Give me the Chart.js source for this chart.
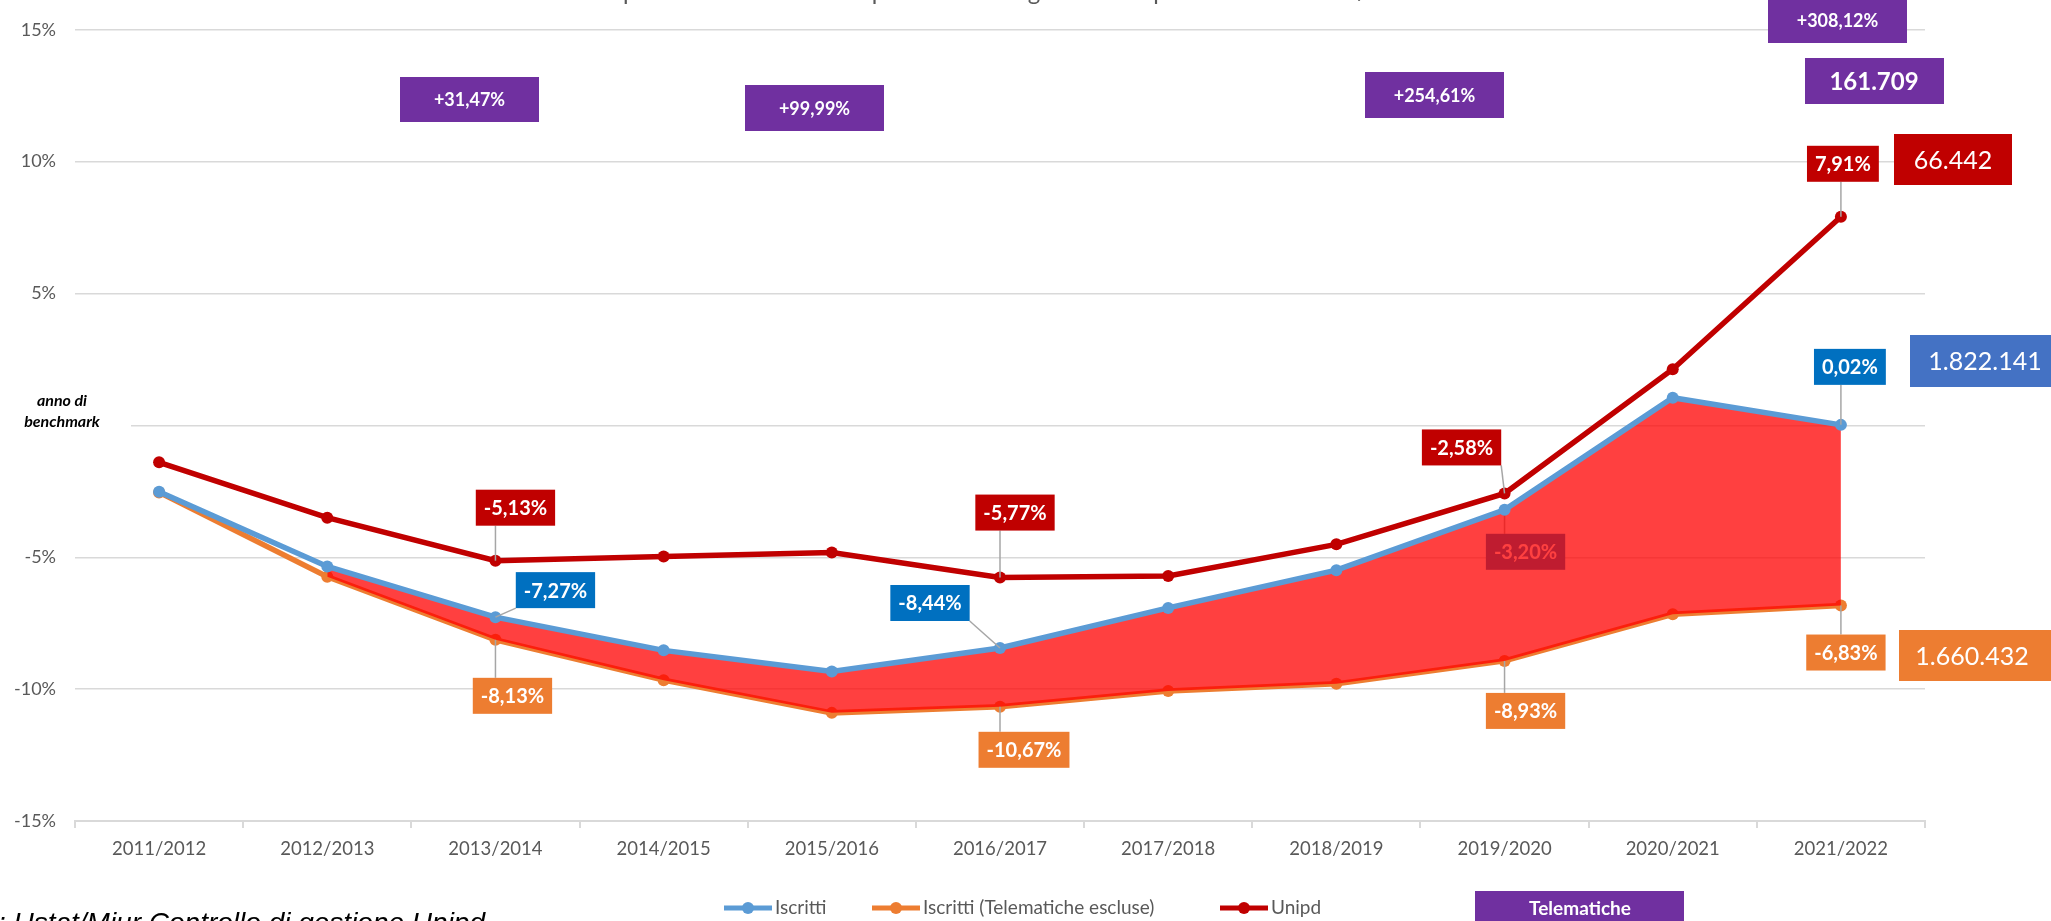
<!DOCTYPE html>
<html>
<head>
<meta charset="utf-8">
<script src="https://cdn.jsdelivr.net/npm/chart.js@4.4.0/dist/chart.umd.min.js"></script>
<style>
    html, body { margin: 0; padding: 0; background: #fff; }
    #wrap { width: 2051px; height: 921px; position: relative; }
</style>
</head>
<body>
<div id="wrap"><canvas id="chart"></canvas></div>
<script>
// Anni accademici e variazioni % rispetto all'anno di benchmark
const seasons = ['2011/2012', '2012/2013', '2013/2014', '2014/2015', '2015/2016', '2016/2017',
                 '2017/2018', '2018/2019', '2019/2020', '2020/2021', '2021/2022'];
const iscritti = [-2.52, -5.35, -7.27, -8.53, -9.33, -8.44, -6.92, -5.49, -3.20, 1.05, 0.02];
const iscrittiNoTelematiche = [-2.54, -5.74, -8.13, -9.66, -10.90, -10.67, -10.07, -9.80, -8.93, -7.16, -6.83];
const unipd = [-1.40, -3.50, -5.13, -4.97, -4.82, -5.77, -5.71, -4.51, -2.58, 2.13, 7.91];
const labelledPoints = [2, 5, 8, 10];
const yTicks = [-15, -10, -5, 0, 5, 10, 15];

// Telematiche e totali 2021/2022
const telematicheVar = ['+31,47%', '+99,99%', '+254,61%', '+308,12%'];
const totTelematiche = '161.709';
const totUnipd = '66.442';
const totIscritti = '1.822.141';
const totNoTelematiche = '1.660.432';

const BLUE = '#5B9BD5', ORANGE = '#ED7D31', RED = '#C00000', PURPLE = '#7030A0';
const FONT = 'Lato, "Open Sans", sans-serif';

// label box offsets from the point (px), one per labelled point
const offIscritti = [[60, -27], [-70, -45], [21, 42], [9, -58]];
const offNoTel = [[17, 56], [24, 43], [21, 50], [5, 47]];
const offUnipd = [[20, -53], [15, -65], [-43, -46], [2, -53]];

function fmt(v) {
    return v.toFixed(2).replace('.', ',') + '%';
}

function tag(ctx, text, cx, cy, bg, font, h, padX) {
    ctx.font = font;
    const w = ctx.measureText(text).width + padX * 2;
    ctx.fillStyle = bg;
    ctx.fillRect(cx - w / 2, cy - h / 2, w, h);
    ctx.fillStyle = '#fff';
    ctx.textAlign = 'center';
    ctx.textBaseline = 'middle';
    ctx.fillText(text, cx, cy + 1);
}

function leader(ctx, px, py, cx, cy, w, h) {
    const nx = Math.max(cx - w / 2, Math.min(px, cx + w / 2));
    const ny = Math.max(cy - h / 2, Math.min(py, cy + h / 2));
    if (Math.hypot(nx - px, ny - py) < 8) return;
    ctx.strokeStyle = '#A6A6A6';
    ctx.lineWidth = 1.5;
    ctx.beginPath();
    ctx.moveTo(px, py);
    ctx.lineTo(nx, ny);
    ctx.stroke();
}

function pointLabels(chart, dsIndex, values, offsets, bg, filter) {
    const ctx = chart.ctx;
    const meta = chart.getDatasetMeta(dsIndex);
    labelledPoints.forEach((idx, k) => {
        if (filter && !filter(dsIndex, idx)) return;
        const pt = meta.data[idx];
        const text = fmt(values[idx]);
        const cx = pt.x + offsets[k][0], cy = pt.y + offsets[k][1];
        ctx.font = 'bold 20px ' + FONT;
        const w = ctx.measureText(text).width + 16;
        leader(ctx, pt.x, pt.y, cx, cy, w, 36);
        tag(ctx, text, cx, cy, bg, 'bold 20px ' + FONT, 36, 8);
    });
}

// the -3,20% label of Iscritti sits under the red area
const underArea = (ds, idx) => ds === 0 && idx === 8;

const annotations = {
    id: 'annotations',
    beforeDatasetsDraw(chart) {
        const ctx = chart.ctx;
        ctx.save();
        pointLabels(chart, 0, iscritti, offIscritti, '#0070C0', underArea);
        ctx.restore();
    },
    afterDatasetsDraw(chart) {
        const ctx = chart.ctx;
        ctx.save();
        pointLabels(chart, 2, unipd, offUnipd, RED);
        pointLabels(chart, 0, iscritti, offIscritti, '#0070C0', (d, i) => !underArea(d, i));
        pointLabels(chart, 1, iscrittiNoTelematiche, offNoTel, ORANGE);

        // boxes of the Telematiche
        const purpleBoxes = [[400, 77, 139, 45], [745, 85, 139, 46], [1365, 72, 139, 46], [1768, -3, 139, 46]];
        telematicheVar.forEach((t, i) => {
            const b = purpleBoxes[i];
            ctx.fillStyle = PURPLE;
            ctx.fillRect(b[0], b[1], b[2], b[3]);
            ctx.fillStyle = '#fff';
            ctx.font = 'bold 18px ' + FONT;
            ctx.textAlign = 'center';
            ctx.textBaseline = 'middle';
            ctx.fillText(t, b[0] + b[2] / 2, b[1] + b[3] / 2 + 1);
        });

        // totals
        const totals = [
            [totTelematiche, 1805, 58, 139, 46, PURPLE, 'bold 24px ', 1874],
            [totUnipd, 1894, 134, 118, 51, RED, '25px ', 1953],
            [totIscritti, 1910, 335, 150, 52, '#4472C4', '25px ', 1985],
            [totNoTelematiche, 1899, 630, 160, 51, ORANGE, '25px ', 1972]
        ];
        totals.forEach(t => {
            ctx.fillStyle = t[5];
            ctx.fillRect(t[1], t[2], t[3], t[4]);
            ctx.fillStyle = '#fff';
            ctx.font = t[6] + FONT;
            ctx.textAlign = 'center';
            ctx.textBaseline = 'middle';
            ctx.fillText(t[0], t[7], t[2] + t[4] / 2 + 1);
        });

        // anno di benchmark
        ctx.fillStyle = '#fff';
        ctx.fillRect(0, 386, 131, 50);
        ctx.fillStyle = '#000';
        ctx.font = 'italic bold 16px ' + FONT;
        ctx.textAlign = 'center';
        ctx.fillText('anno di', 62, 401);
        ctx.fillText('benchmark', 62, 422);

        // title, cut at top
        ctx.fillStyle = '#595959';
        ctx.font = '24px ' + FONT;
        ctx.textBaseline = 'alphabetic';
        ctx.fillText("Andamento per l'iscritto: variazione percentuale degli iscritti rispetto all'anno 2011/12", 945, 0);

        // source, cut at bottom
        ctx.fillStyle = '#000';
        ctx.font = 'italic 28px "Liberation Sans", Arial, sans-serif';
        ctx.textAlign = 'right';
        ctx.fillText('Fonte: Ustat/Miur Controllo di gestione Unipd', 485, 932);

        // legend
        const legendItems = [['Iscritti', BLUE, 724], ['Iscritti (Telematiche escluse)', ORANGE, 872], ['Unipd', RED, 1220]];
        const ly = 908;
        legendItems.forEach(it => {
            ctx.strokeStyle = it[1];
            ctx.lineWidth = 5;
            ctx.beginPath();
            ctx.moveTo(it[2], ly);
            ctx.lineTo(it[2] + 48, ly);
            ctx.stroke();
            ctx.fillStyle = it[1];
            ctx.beginPath();
            ctx.arc(it[2] + 24, ly, 6, 0, Math.PI * 2);
            ctx.fill();
            ctx.fillStyle = '#595959';
            ctx.font = '19px ' + FONT;
            ctx.textAlign = 'left';
            ctx.textBaseline = 'middle';
            ctx.fillText(it[0], it[2] + 51, ly);
        });
        ctx.fillStyle = PURPLE;
        ctx.fillRect(1475, 891, 209, 34);
        ctx.fillStyle = '#fff';
        ctx.font = 'bold 19px ' + FONT;
        ctx.textAlign = 'center';
        ctx.fillText('Telematiche', 1580, 909);
        ctx.restore();
    }
};

const ctx = document.getElementById('chart').getContext('2d');
const chart = new Chart(ctx, {
    type: 'line',
    data: {
        labels: seasons,
        datasets: [
            {
                label: 'Iscritti',
                data: iscritti,
                borderColor: BLUE,
                backgroundColor: BLUE,
                borderWidth: 5.5,
                pointRadius: 6,
                pointBorderWidth: 0,
                tension: 0,
                fill: false,
                order: 1
            },
            {
                label: 'Iscritti (Telematiche escluse)',
                data: iscrittiNoTelematiche,
                borderColor: ORANGE,
                backgroundColor: ORANGE,
                borderWidth: 5.5,
                pointRadius: 6,
                pointBorderWidth: 0,
                tension: 0,
                fill: false,
                order: 3
            },
            {
                label: 'Unipd',
                data: unipd,
                borderColor: RED,
                backgroundColor: RED,
                borderWidth: 5.5,
                pointRadius: 6,
                pointBorderWidth: 0,
                tension: 0,
                fill: false,
                order: 0
            },
            {
                label: 'area',
                data: [null, ...iscritti.slice(1)],
                borderColor: '#2E75B6',
                backgroundColor: 'rgba(255,0,0,0.75)',
                borderWidth: 2,
                pointRadius: 0,
                tension: 0,
                fill: 1,
                order: 2
            }
        ]
    },
    options: {
        responsive: true,
        maintainAspectRatio: false,
        animation: false,
        devicePixelRatio: 1,
        layout: { padding: { left: 0, right: 126, top: 24, bottom: 0 } },
        plugins: {
            legend: { display: false },
            tooltip: { enabled: false }
        },
        scales: {
            x: {
                offset: true,
                grid: {
                    offset: true,
                    drawOnChartArea: false,
                    drawTicks: true,
                    tickLength: 7,
                    color: '#D9D9D9',
                    lineWidth: 2
                },
                border: { display: true, color: '#D9D9D9', width: 2 },
                ticks: {
                    color: '#595959',
                    font: { family: FONT, size: 18.5 },
                    padding: 10,
                    maxRotation: 0
                },
                afterFit(scale) { scale.height = 100; }
            },
            y: {
                min: -15,
                max: 15,
                afterBuildTicks(scale) { scale.ticks = yTicks.map(v => ({ value: v })); },
                grid: { color: '#D9D9D9', lineWidth: 1.5, drawTicks: false },
                border: { display: false },
                ticks: {
                    color: '#595959',
                    font: { family: FONT, size: 18 },
                    padding: 19,
                    callback: v => v === 0 ? '' : v + '%'
                },
                afterFit(scale) { scale.width = 75; }
            }
        }
    },
    plugins: [annotations]
});
</script>
</body>
</html>
